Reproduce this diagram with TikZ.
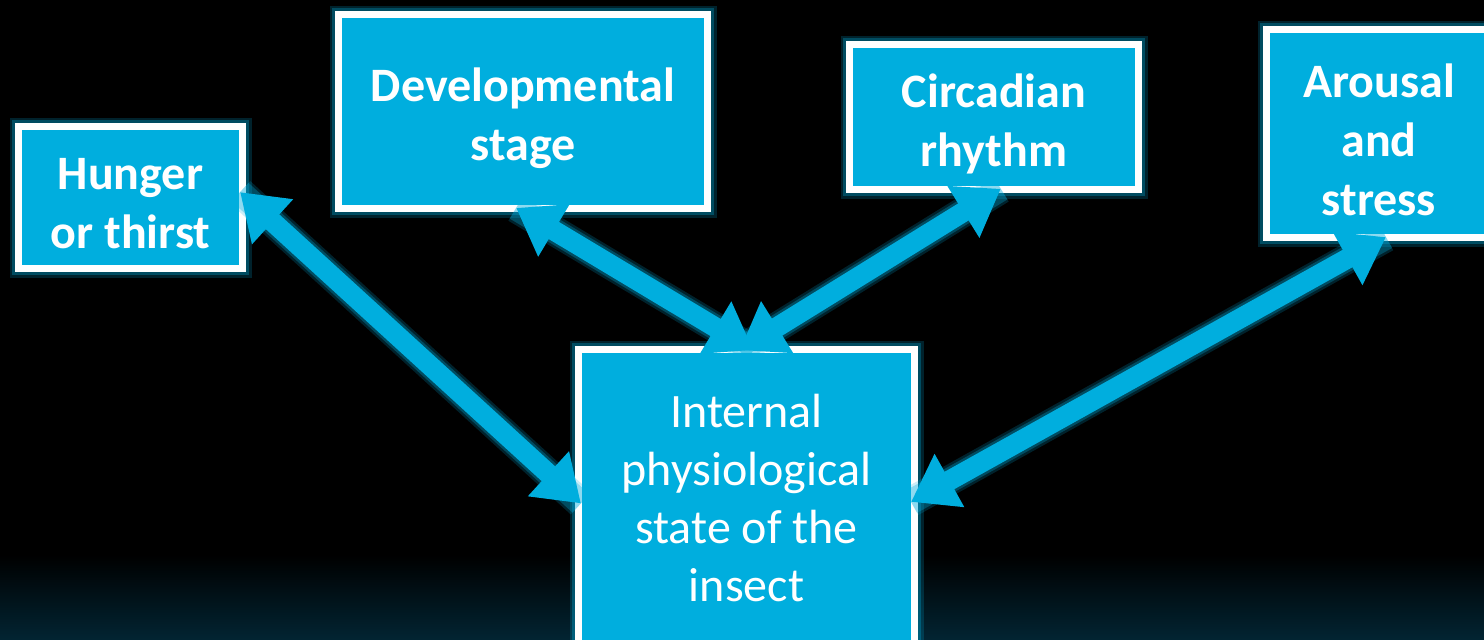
\documentclass[tikz,border=0pt]{standalone}
\usepackage{fontspec}
\setmainfont{Carlito}
\usetikzlibrary{arrows.meta}
\definecolor{boxblue}{RGB}{0,174,222}
\definecolor{bottomteal}{RGB}{2,36,50}

\begin{document}
\begin{tikzpicture}[x=0.5pt,y=-0.5pt]
\tikzstyle{every node}+=[inner sep=0pt, align=center, text=white]
\tikzstyle{factor}=[draw=white, fill=boxblue, line width=3.5pt,
  preaction={draw=boxblue, opacity=0.2, line width=9pt},
  preaction={draw=boxblue, opacity=0.3, line width=6.5pt}]
\tikzstyle{caption}=[font=\fontsize{24}{29.5}\selectfont\bfseries, yshift=-3.25pt]
\tikzstyle{state}=[factor, font=\fontsize{24}{29}\selectfont]
\tikzstyle{link}=[draw=boxblue, line width=10pt,
  arrows={Triangle[width=29pt,length=22pt]-Triangle[width=29pt,length=22pt]},
  shorten <=-4pt, shorten >=-4pt,
  preaction={draw=boxblue, opacity=0.2, line width=15pt, arrows=-},
  preaction={draw=boxblue, opacity=0.3, line width=12.5pt, arrows=-}]

% background
\clip (0,0) rectangle (1484,639);
\fill [black] (0,0) rectangle (1484,639);
\shade [top color=black, bottom color=bottomteal] (0,555) rectangle (1484,639);

% factor boxes
\node [factor, minimum width=112pt, minimum height=71pt,
  label={[caption]center:{Hunger\\or thirst}}] (hunger) at (130.5,197.5) {};
\node [factor, minimum width=184.5pt, minimum height=97pt,
  label={[caption]center:{Developmental\\stage}}] (develop) at (523,111.5) {};
\node [factor, minimum width=144.5pt, minimum height=72.5pt,
  label={[caption]center:{Circadian\\rhythm}}] (circadian) at (994,117) {};
\node [factor, minimum width=112.5pt, minimum height=104pt,
  label={[caption]center:{Arousal\\and\\stress}}] (arousal) at (1379,133.5) {};

% central box
\node [state, minimum width=168pt, minimum height=148.5pt] (state) at (746.5,498) {Internal\\physiological\\state of the\\insect};

% links
\draw [link] (hunger.east) -- (state.west);
\draw [link] (develop.south) -- (state.north);
\draw [link] (circadian.south) -- (state.north);
\draw [link] (arousal.south) -- (state.east);
\end{tikzpicture}
\end{document}
